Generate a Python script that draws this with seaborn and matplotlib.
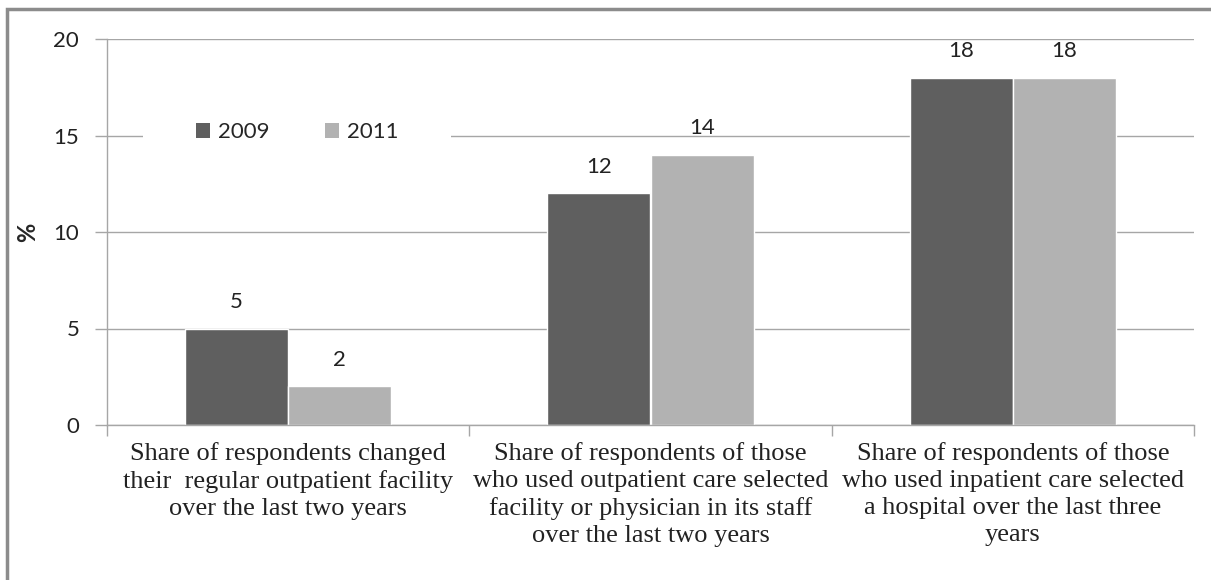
import pandas as pd
import matplotlib.pyplot as plt
import seaborn as sns
from matplotlib.patches import Rectangle, Patch

# data
categories = [
    "Share of respondents changed\ntheir  regular outpatient facility\nover the last two years",
    "Share of respondents of those\nwho used outpatient care selected\nfacility or physician in its staff\nover the last two years",
    "Share of respondents of those\nwho used inpatient care selected\na hospital over the last three\nyears",
]
years = ["2009", "2011"]
values_2009 = [5, 12, 18]
values_2011 = [2, 14, 18]

df = pd.DataFrame({
    "category": categories * 2,
    "year": [years[0]] * 3 + [years[1]] * 3,
    "value": values_2009 + values_2011,
})

sns.set_style("white")
plt.rcParams["font.family"] = ["Lato", "DejaVu Sans"]

dark = "#5f5f5f"
light = "#b2b2b2"
grid_c = "#a6a6a6"

fig = plt.figure(figsize=(12.11, 5.80), dpi=100)
ax = fig.add_axes([107 / 1211, 1 - 425 / 580, (1194 - 107) / 1211, (425 - 39) / 580])

sns.barplot(data=df, x="category", y="value", hue="year", palette=[dark, light],
            width=0.57, saturation=1, ax=ax, legend=False)

for c in ax.containers:
    ax.bar_label(c, padding=12, fontsize=16, color="#222222")

ax.set_ylim(0, 20)
ax.set_xlim(-0.5, 2.5)
ax.set_yticks([0, 5, 10, 15, 20])
ax.yaxis.grid(True, color=grid_c, linewidth=1)
ax.set_axisbelow(True)

for s in ["top", "right"]:
    ax.spines[s].set_visible(False)
for s in ["left", "bottom"]:
    ax.spines[s].set_color(grid_c)
    ax.spines[s].set_linewidth(1)

ax.tick_params(axis="y", length=9, width=1, color=grid_c, labelsize=16,
               labelcolor="#222222", pad=11, left=True)
ax.set_xticks([0, 1, 2])
ax.set_xticks([-0.5, 0.5, 1.5, 2.5], minor=True)
ax.tick_params(axis="x", which="major", length=0, pad=12)
ax.tick_params(axis="x", which="minor", length=8, width=1, color=grid_c, bottom=True)
ax.set_xticklabels(categories, family=["Liberation Serif"], fontsize=19,
                   color="#222222", linespacing=1.3)

ax.set_xlabel("")
ax.set_ylabel("%", fontsize=17, fontweight="bold", labelpad=10)

handles = [Patch(facecolor=dark, edgecolor="none"), Patch(facecolor=light, edgecolor="none")]
leg = ax.legend(handles, years, loc="center", bbox_to_anchor=(0.1748, 0.759), ncol=2,
                frameon=True, fontsize=16, handlelength=0.65, handleheight=0.65,
                handletextpad=0.35, columnspacing=2.5, borderpad=2.35, borderaxespad=0)
leg.get_frame().set_facecolor("white")
leg.get_frame().set_edgecolor("none")
leg.get_frame().set_alpha(1)

fig.patches.append(Rectangle((7 / 1211, -0.1), 1.2, 1 - 9 / 580 + 0.1,
                             transform=fig.transFigure, fill=False,
                             edgecolor="#8c8c8c", linewidth=2.5))

fig.savefig("out.png", dpi=100, facecolor="white")
